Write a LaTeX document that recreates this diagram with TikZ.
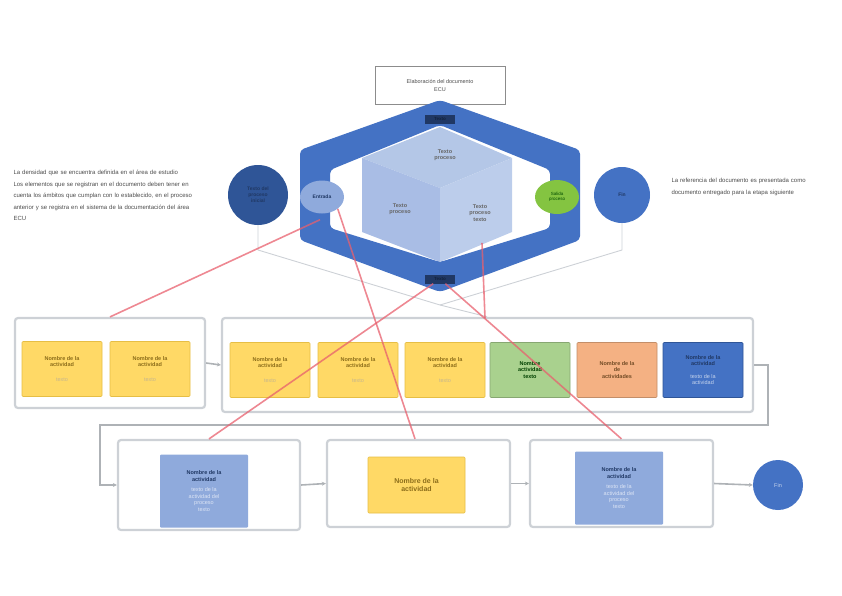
\documentclass[tikz,border=0pt]{standalone}
\usepackage{fontspec}
\setmainfont{Liberation Sans}
\usetikzlibrary{shapes.geometric,arrows.meta}
\definecolor{hexblue}{HTML}{4472C4}
\definecolor{darkblue}{HTML}{2F5597}
\definecolor{navy}{HTML}{203864}
\definecolor{cubeA}{HTML}{B4C7E7}
\definecolor{cubeB}{HTML}{A9BDE5}
\definecolor{cubeC}{HTML}{BCCDEB}
\definecolor{lblue}{HTML}{8FAADC}
\definecolor{yel}{HTML}{FFD966}
\definecolor{yelb}{HTML}{E6BE45}
\definecolor{olive}{HTML}{8C6D1A}
\definecolor{grn}{HTML}{A9D18E}
\definecolor{lgreen}{HTML}{84C441}
\definecolor{org}{HTML}{F4B183}
\definecolor{brd}{HTML}{CDD1D6}
\definecolor{redl}{HTML}{E8606E}
\tikzset{
  frame/.style={draw=brd,line width=2.2pt,rounded corners=3pt,fill=white},
  cell/.style={minimum width=80pt,minimum height=55pt,inner sep=1pt,align=center,font=\fontsize{5.5}{6.5}\selectfont,rounded corners=1pt},
  ycell/.style={cell,fill=yel,draw=yelb,line width=0.6pt,text=olive},
  flow/.style={draw=brd!85!black,line width=1.6pt,-{Stealth[length=4pt,width=4pt]}},
  thin/.style={draw=brd,line width=0.9pt},
  redline/.style={draw=redl,line width=1.6pt,opacity=0.75},
  small/.style={font=\fontsize{6}{11.5}\selectfont,text=black!70,align=left},
  cubetext/.style={font=\bfseries\fontsize{5.5}{6.5}\selectfont,text=black!60,align=center},
}
\begin{document}
\begin{tikzpicture}[x=1pt,y=-1pt]
\useasboundingbox (0,0) rectangle (842,595);
% title box
\node[draw=black!45,line width=0.8pt,minimum width=130pt,minimum height=38pt,align=center,font=\fontsize{5.5}{8}\selectfont,text=black!70] (title) at (440,85) {Elaboración del documento\\ ECU};
% hexagon band
\path[fill=hexblue,even odd rule,rounded corners=4pt]
  (300,150) -- (440,100) -- (580,150) -- (580,240) -- (440,292) -- (300,240) -- cycle
  (330,170) -- (440,125) -- (550,170) -- (550,228) -- (440,262) -- (330,228) -- cycle;
\coordinate (hextop) at (440,119);
\coordinate (hexbot) at (440,279);
% cube
\fill[cubeA] (440,127) -- (512,158) -- (440,188) -- (362,158) -- cycle;
\fill[cubeB] (362,158) -- (440,188) -- (440,262) -- (362,232) -- cycle;
\fill[cubeC] (512,158) -- (440,188) -- (440,262) -- (512,232) -- cycle;
\node[cubetext] (ctop) at (445,155) {Texto\\ proceso};
\node[cubetext] (cleft) at (400,209) {Texto\\ proceso};
\node[cubetext] (cright) at (480,213) {Texto\\ proceso\\ texto};
% dark labels on band
\node[fill=navy,minimum width=30pt,minimum height=9pt,inner sep=0pt,font=\bfseries\fontsize{4.5}{4.5}\selectfont,text=navy!60!black] (ltop) at (hextop) {Texto};
\node[fill=navy,minimum width=30pt,minimum height=9pt,inner sep=0pt,font=\bfseries\fontsize{4.5}{4.5}\selectfont,text=navy!60!black] (lbot) at (hexbot) {Texto};
% ellipses on band
\node[ellipse,fill=lblue,minimum width=44pt,minimum height=33pt,inner sep=0pt,font=\bfseries\fontsize{5}{5}\selectfont,text=navy] (ell) at (322,197) {Entrada};
\node[ellipse,fill=lgreen,minimum width=44pt,minimum height=34pt,inner sep=0pt,font=\fontsize{4.5}{5.5}\selectfont,text=green!30!black,align=center] (elr) at (557,197) {Salida\\ proceso};
% outer circles
\node[circle,fill=darkblue,minimum size=60pt,inner sep=0pt,font=\bfseries\fontsize{5}{6}\selectfont,text=navy,align=center] (cl) at (258,195) {Texto del\\ proceso\\ inicial};
\node[circle,fill=hexblue,minimum size=56pt,inner sep=0pt,font=\bfseries\fontsize{5}{5}\selectfont,text=navy] (cr) at (622,195) {Fin};
% side texts
\node[small,anchor=north west,text width=180pt] (ptl) at (10,167) {La densidad que se encuentra definida en el área de estudio\\ Los elementos que se registran en el documento deben tener en cuenta los ámbitos que cumplan con lo establecido, en el proceso anterior y se registra en el sistema de la documentación del área ECU};
\node[small,anchor=north west,text width=140pt] (ptr) at (668,175) {La referencia del documento es presentada como documento entregado para la etapa siguiente};
% gray thin lines
\coordinate (junc) at (440,305);
\draw[thin] (cl.south) -- (258,250) -- (junc);
\draw[thin] (cr.south) -- (622,250) -- (junc);
% row 1
\node[frame,minimum width=190pt,minimum height=90pt] (b1) at (110,363) {};
\node[ycell] (y1) at (62,369) {\textbf{Nombre de la}\\ \textbf{actividad}\\[8pt] {\color{olive!50}texto}};
\node[ycell] (y2) at (150,369) {\textbf{Nombre de la}\\ \textbf{actividad}\\[8pt] {\color{olive!50}texto}};
\node[frame,minimum width=531pt,minimum height=94pt] (b2) at (487.5,365) {};
\draw[thin,-{Stealth[length=3pt]}] (junc) -- (b2.north);
\node[ycell] (y3) at (270,370) {\textbf{Nombre de la}\\ \textbf{actividad}\\[8pt] {\color{olive!50}texto}};
\node[ycell] (y4) at (358,370) {\textbf{Nombre de la}\\ \textbf{actividad}\\[8pt] {\color{olive!50}texto}};
\node[ycell] (y5) at (445,370) {\textbf{Nombre de la}\\ \textbf{actividad}\\[8pt] {\color{olive!50}texto}};
\node[cell,fill=grn,draw=grn!80!black,line width=0.6pt,text=green!25!black] (g1) at (530,370) {\textbf{Nombre}\\ \textbf{actividad}\\ \textbf{texto}};
\node[cell,fill=org,draw=org!80!black,line width=0.6pt,text=brown!60!black] (o1) at (617,370) {\textbf{Nombre de la}\\ \textbf{de}\\ \textbf{actividades}};
\node[cell,fill=hexblue,draw=darkblue,line width=0.6pt,text=navy] (bl1) at (703,370) {\textbf{Nombre de la}\\ \textbf{actividad}\\[6pt] {\color{white!70!hexblue}texto de la}\\ {\color{white!70!hexblue}actividad}};
\draw[flow] (b1.east) -- (b2.west);
% row 2
\node[frame,minimum width=182pt,minimum height=90pt] (b3) at (209,485) {};
\node[cell,fill=lblue,minimum width=88pt,minimum height=73pt,text=navy] (lb1) at (204,491) {\textbf{Nombre de la}\\ \textbf{actividad}\\[4pt] {\color{white!70!lblue}texto de la}\\ {\color{white!70!lblue}actividad del}\\ {\color{white!70!lblue}proceso}\\ {\color{white!70!lblue}texto}};
\node[frame,minimum width=183pt,minimum height=87pt] (b4) at (418.5,483.5) {};
\node[ycell,minimum width=97pt,minimum height=56pt,font=\fontsize{7}{8}\selectfont] (y6) at (416.5,485) {\textbf{Nombre de la}\\ \textbf{actividad}};
\node[frame,minimum width=183pt,minimum height=87pt] (b5) at (621.5,483.5) {};
\node[cell,fill=lblue,minimum width=88pt,minimum height=73pt,text=navy] (lb2) at (619,488) {\textbf{Nombre de la}\\ \textbf{actividad}\\[4pt] {\color{white!70!lblue}texto de la}\\ {\color{white!70!lblue}actividad del}\\ {\color{white!70!lblue}proceso}\\ {\color{white!70!lblue}texto}};
\node[circle,fill=hexblue,minimum size=50pt,inner sep=0pt,font=\fontsize{5.5}{5.5}\selectfont,text=white!70!hexblue] (fin) at (778,485) {Fin};
\draw[flow] (b2.east) -- (768,365) -- (768,425) -- (100,425) -- (100,485) -- (b3.west);
\draw[flow] (b3.east) -- (b4.west);
\draw[flow] (b4.east) -- (b5.west);
\draw[flow] (b5.east) -- (fin.west);
% red lines
\draw[redline] (ell.south) ++(-2,6) coordinate (r1) -- (b1.north);
\draw[redline] (ell.south east) -- (b4.north -| 415,0);
\draw[redline] (lbot) -- (b3.north);
\draw[redline] (lbot) -- (b5.north);
\draw[redline] (cright.south) ++(2,18) coordinate (r5) -- (485,318);
\end{tikzpicture}
\end{document}
